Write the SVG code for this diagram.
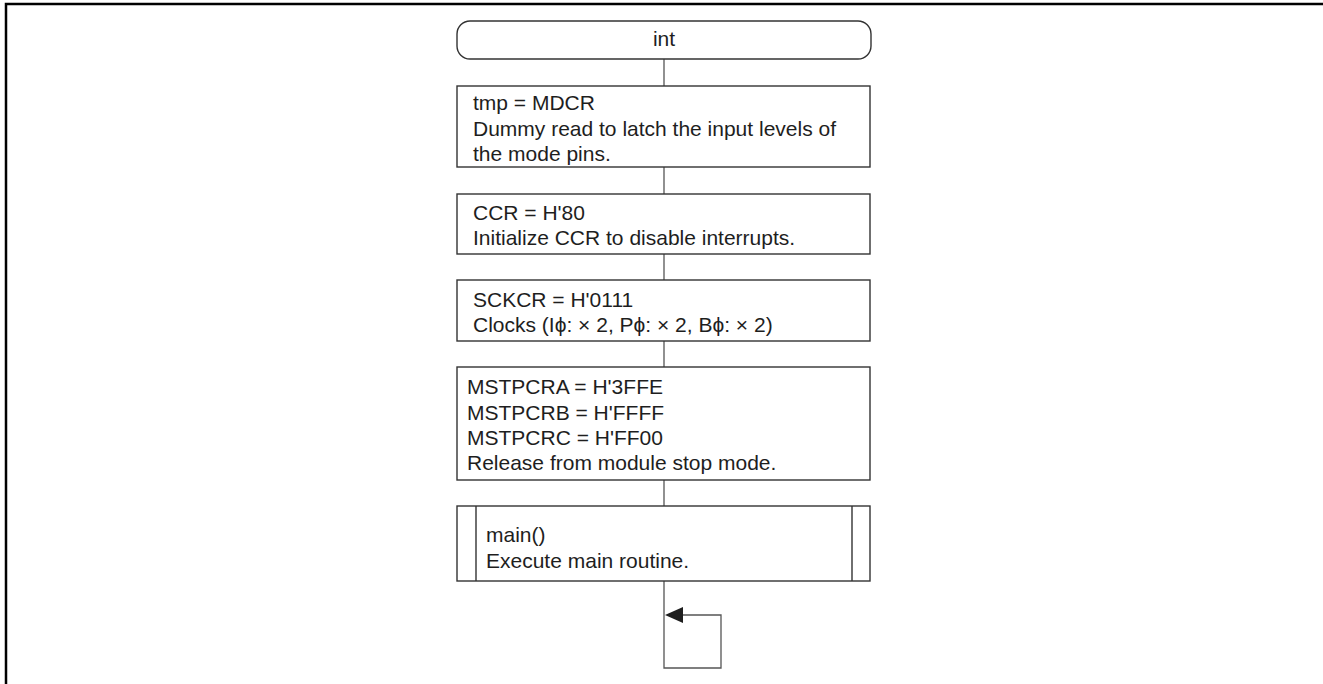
<svg xmlns="http://www.w3.org/2000/svg" width="1323" height="684" viewBox="0 0 1323 684">
<style>
.frame{fill:none;stroke:#000;stroke-width:2.5}
.box{fill:#fff;stroke:#333;stroke-width:1.4}
.conn{fill:none;stroke:#555;stroke-width:1.3}
.t{font-family:"Liberation Sans",Arial,sans-serif;font-size:21px;fill:#1e1e1e}
.c{text-anchor:middle}
</style>
<defs>
<marker id="ah" markerWidth="18" markerHeight="16" refX="0" refY="8" orient="auto" markerUnits="userSpaceOnUse">
<path d="M0,8 L18,0 L18,16 Z" fill="#1e1e1e"/>
</marker>
</defs>
<rect x="0" y="0" width="1323" height="684" fill="#fff"/>
<path class="frame" d="M6,684 V4 H1323"/>
<g id="connectors">
<line class="conn" x1="664" y1="59" x2="664" y2="86"/>
<line class="conn" x1="664" y1="167" x2="664" y2="194"/>
<line class="conn" x1="664" y1="254" x2="664" y2="280"/>
<line class="conn" x1="664" y1="341" x2="664" y2="367"/>
<line class="conn" x1="664" y1="480" x2="664" y2="506"/>
<path class="conn" d="M664,581 V668 H721 V615 H683"/>
<polygon points="665,615 683,607 683,623" fill="#1e1e1e"/>
</g>
<g id="start">
<rect class="box" x="457" y="21" width="414" height="38" rx="13" ry="13"/>
<text class="t c" x="664" y="46">int</text>
</g>
<g id="tmp">
<rect class="box" x="457" y="86" width="413" height="81"/>
<text class="t" x="473" y="110">tmp = MDCR</text>
<text class="t" x="473" y="136">Dummy read to latch the input levels of</text>
<text class="t" x="473" y="161">the mode pins.</text>
</g>
<g id="ccr">
<rect class="box" x="457" y="194" width="413" height="60"/>
<text class="t" x="473" y="220">CCR = H'80</text>
<text class="t" x="473" y="245">Initialize CCR to disable interrupts.</text>
</g>
<g id="sckcr">
<rect class="box" x="457" y="280" width="413" height="61"/>
<text class="t" x="473" y="307">SCKCR = H'0111</text>
<text class="t" x="473" y="332">Clocks (Iϕ: × 2, Pϕ: × 2, Bϕ: × 2)</text>
</g>
<g id="mstpcr">
<rect class="box" x="457" y="367" width="413" height="113"/>
<text class="t" x="467" y="394">MSTPCRA = H'3FFE</text>
<text class="t" x="467" y="420">MSTPCRB = H'FFFF</text>
<text class="t" x="467" y="445">MSTPCRC = H'FF00</text>
<text class="t" x="467" y="470">Release from module stop mode.</text>
</g>
<g id="main">
<rect class="box" x="457" y="506" width="413" height="75"/>
<line class="box" x1="476" y1="506" x2="476" y2="581"/>
<line class="box" x1="852" y1="506" x2="852" y2="581"/>
<text class="t" x="486" y="542">main()</text>
<text class="t" x="486" y="568">Execute main routine.</text>
</g>
</svg>
